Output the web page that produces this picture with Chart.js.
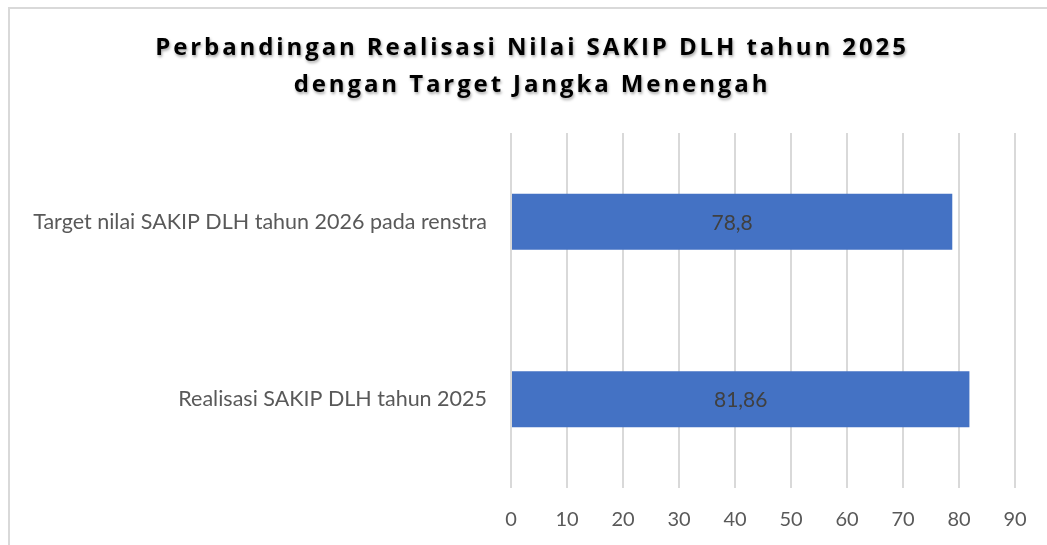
<!DOCTYPE html>
<html>
<head>
<meta charset="utf-8">
<script src="https://cdn.jsdelivr.net/npm/chart.js@4.4.1/dist/chart.umd.min.js"></script>
<style>
  html, body { margin: 0; padding: 0; background: #fff; overflow: hidden; }
  canvas { display: block; }
</style>
</head>
<body>
<canvas id="myChart" width="1047" height="545"></canvas>
<script>
const titleLines = ['Perbandingan Realisasi Nilai SAKIP DLH tahun 2025', 'dengan Target Jangka Menengah'];
const categories = ['Target nilai SAKIP DLH tahun 2026 pada renstra', 'Realisasi SAKIP DLH tahun 2025'];
const values = [78.8, 81.86];
const valueLabels = ['78,8', '81,86'];
const xTicks = [0, 10, 20, 30, 40, 50, 60, 70, 80, 90];

const labelFont = 'Lato';

// light frame around the chart + bold spaced title with soft shadow
const framePlugin = {
    id: 'frame',
    beforeDraw(chart) {
        const ctx = chart.ctx;
        ctx.save();
        ctx.strokeStyle = '#d9d9d9';
        ctx.lineWidth = 2;
        ctx.strokeRect(9, 8, 1100, 600);
        ctx.restore();
    },
    afterDraw(chart) {
        const ctx = chart.ctx;
        ctx.save();
        ctx.font = 'bold 24px "Open Sans"';
        ctx.letterSpacing = '2.9px';
        ctx.textAlign = 'center';
        ctx.textBaseline = 'alphabetic';
        ctx.fillStyle = '#000';
        ctx.shadowColor = 'rgba(0,0,0,0.35)';
        ctx.shadowBlur = 3;
        ctx.shadowOffsetX = 1;
        ctx.shadowOffsetY = 2;
        ctx.fillText(titleLines[0], 532, 55);
        ctx.fillText(titleLines[1], 532, 92);
        ctx.restore();
    }
};

// value labels centred in each bar
const valuePlugin = {
    id: 'values',
    afterDatasetsDraw(chart) {
        const ctx = chart.ctx;
        const meta = chart.getDatasetMeta(0);
        ctx.save();
        ctx.font = '21px ' + labelFont;
        ctx.fillStyle = '#404040';
        ctx.textAlign = 'center';
        ctx.textBaseline = 'middle';
        meta.data.forEach((bar, i) => {
            ctx.fillText(valueLabels[i], (bar.x + bar.base) / 2, bar.y + 1);
        });
        ctx.restore();
    }
};

new Chart(document.getElementById('myChart'), {
    type: 'bar',
    data: {
        labels: categories,
        datasets: [{
            data: values,
            backgroundColor: '#4472C4',
            borderColor: '#4472C4',
            borderWidth: 0,
            barPercentage: 1,
            categoryPercentage: 0.315
        }]
    },
    options: {
        indexAxis: 'y',
        responsive: false,
        animation: false,
        layout: { padding: { top: 133, left: 0, right: 32, bottom: 0 } },
        plugins: {
            legend: { display: false },
            tooltip: { enabled: false }
        },
        scales: {
            x: {
                min: 0,
                max: 90,
                afterBuildTicks: (scale) => {
                    scale.ticks = xTicks.map(v => ({ value: v }));
                },
                afterFit: (scale) => {
                    scale.paddingLeft = 0;
                    scale.paddingRight = 0;
                    scale.height = 57;
                },
                grid: { color: '#d9d9d9', lineWidth: 2, drawTicks: false },
                border: { display: false },
                ticks: {
                    padding: 20,
                    color: '#595959',
                    font: { family: labelFont, size: 20 }
                }
            },
            y: {
                afterFit: (scale) => { scale.width = 511; },
                grid: { display: false, drawTicks: false },
                border: { display: false },
                ticks: {
                    padding: 24,
                    color: '#595959',
                    font: { family: labelFont, size: 21.5 }
                }
            }
        }
    },
    plugins: [framePlugin, valuePlugin]
});
</script>
</body>
</html>
